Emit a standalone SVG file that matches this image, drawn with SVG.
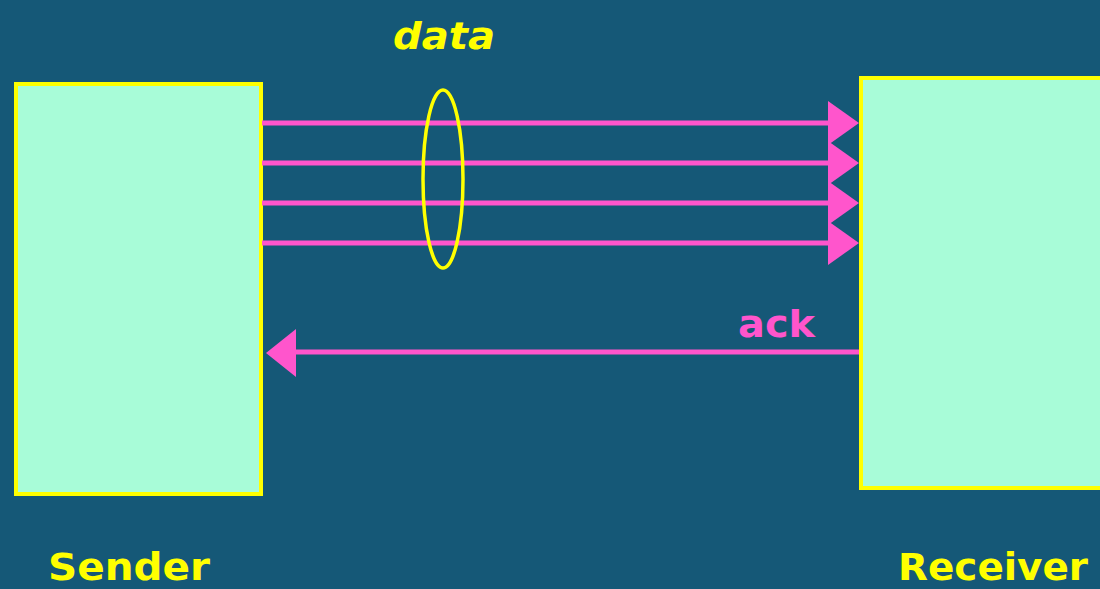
<svg xmlns="http://www.w3.org/2000/svg" width="1100" height="589" viewBox="0 0 1100 589">
<style>
.box{fill:#A8FCD8;stroke:#FFFF00;stroke-width:4}
.ln{stroke:#FF55CC;stroke-width:5;fill:none}
.hd{fill:#FF55CC}
.lbl{font-family:"DejaVu Sans","Liberation Sans",sans-serif;font-weight:bold}
</style>
<rect width="1100" height="589" fill="#155877"/>
<g id="sender">
<rect class="box" x="16" y="84" width="245" height="410"/>
<text class="lbl" x="48" y="580" font-size="37" fill="#FFFF00" textLength="162" lengthAdjust="spacingAndGlyphs">Sender</text>
</g>
<g id="receiver">
<rect class="box" x="861" y="78" width="245" height="410"/>
<text class="lbl" x="898" y="580" font-size="37" fill="#FFFF00" textLength="190" lengthAdjust="spacingAndGlyphs">Receiver</text>
</g>
<g id="connectors">
<line class="ln" x1="262" y1="123" x2="830" y2="123"/>
<line class="ln" x1="262" y1="163" x2="830" y2="163"/>
<line class="ln" x1="262" y1="203" x2="830" y2="203"/>
<line class="ln" x1="262" y1="243" x2="830" y2="243"/>
<polygon class="hd" points="828,101 859,123 828,145"/>
<polygon class="hd" points="828,141 859,163 828,185"/>
<polygon class="hd" points="828,181 859,203 828,225"/>
<polygon class="hd" points="828,221 859,243 828,265"/>
<line class="ln" x1="859" y1="352" x2="294" y2="352"/>
<polygon class="hd" points="296,329 266,353 296,377"/>
</g>
<g id="data-group">
<ellipse cx="443" cy="179" rx="20" ry="89" fill="none" stroke="#FFFF00" stroke-width="3.5"/>
<text class="lbl" x="393" y="49" font-size="38" font-style="italic" fill="#FFFF00" textLength="102" lengthAdjust="spacingAndGlyphs">data</text>
</g>
<g id="ack-label">
<text class="lbl" x="738" y="337" font-size="38" fill="#FF55CC" textLength="77" lengthAdjust="spacingAndGlyphs">ack</text>
</g>
</svg>
